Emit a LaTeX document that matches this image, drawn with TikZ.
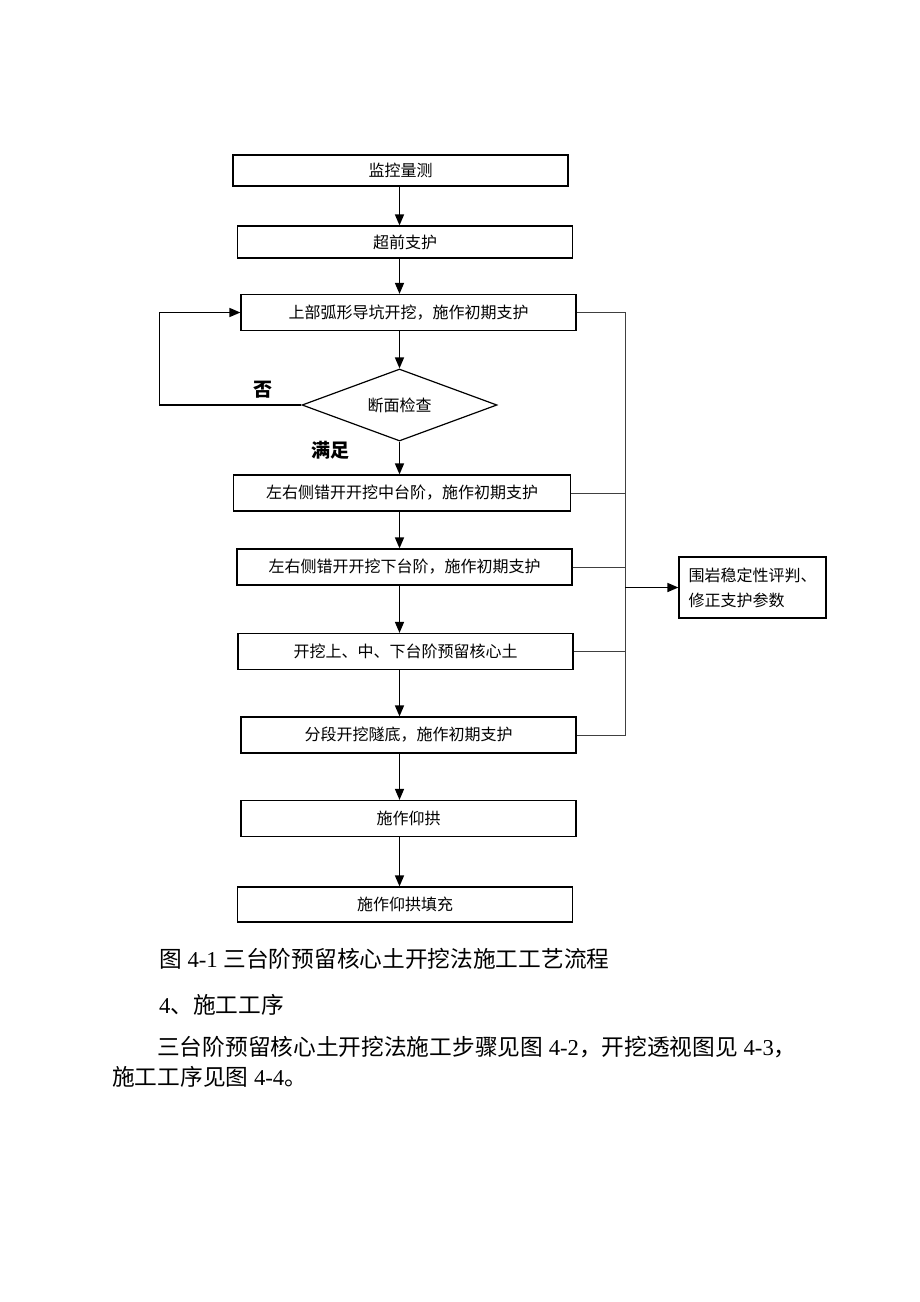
\documentclass[tikz,border=0pt]{standalone}
\usepackage{fontspec}
\setmainfont{Liberation Serif}
\newfontfamily\cjk{Noto Sans CJK SC}
\usetikzlibrary{shapes.geometric,arrows.meta}
\tikzset{
  stepbox/.style={draw,line width=1.2pt,minimum width=335pt,minimum height=36pt,inner sep=0pt,font=\cjk\fontsize{16}{18}\selectfont},
  checkbox/.style={diamond,draw,line width=1.2pt,minimum width=195pt,minimum height=72pt,aspect=2.7,inner sep=0pt,font=\cjk\fontsize{16}{18}\selectfont},
  flow/.style={line width=1.5pt,-{Triangle[length=11pt,width=9pt]}},
  feed/.style={line width=1pt,draw=black!75},
  decision/.style={inner sep=0pt,font=\cjk\bfseries\fontsize{19}{21}\selectfont},
  caption/.style={anchor=west,inner sep=0pt,font=\fontsize{22.7}{26}\selectfont}
}

\begin{document}
\begin{tikzpicture}[x=1pt,y=-1pt]
            \useasboundingbox (0,0) rectangle (920,1302);

            \node[stepbox,minimum height=31pt] (b1) at (400.5,170.5) {监控量测};
            \node[stepbox,minimum height=32pt] (b2) at (405,242) {超前支护};
            \node[stepbox] (b3) at (408.5,312.5) {上部弧形导坑开挖，施作初期支护};
            \node[checkbox] (chk) at (399.5,405) {断面检查};
            \node[stepbox,minimum width=337pt] (b4) at (402,493) {左右侧错开开挖中台阶，施作初期支护};
            \node[stepbox] (b5) at (404.5,567) {左右侧错开开挖下台阶，施作初期支护};
            \node[stepbox] (b6) at (405.5,651.5) {开挖上、中、下台阶预留核心土};
            \node[stepbox] (b7) at (408.5,735) {分段开挖隧底，施作初期支护};
            \node[stepbox] (b8) at (408.5,818.5) {施作仰拱};
            \node[stepbox,minimum height=35pt] (b9) at (405,904.5) {施作仰拱填充};
            \node[stepbox,minimum width=147pt,minimum height=61pt,align=left,font=\cjk\fontsize{16}{25}\selectfont] (rb) at (752.5,587.5) {围岩稳定性评判、\\修正支护参数};

            \node[decision] (no) at (263,390) {否};
            \node[decision] (yes) at (330,450) {满足};

            \draw[flow] (b1.south -| chk) -- (b2.north -| chk);
            \draw[flow] (b2.south -| chk) -- (b3.north -| chk);
            \draw[flow] (b3.south -| chk) -- (chk.north);
            \draw[flow] (chk.south) -- (b4.north -| chk);
            \draw[flow] (b4.south -| chk) -- (b5.north -| chk);
            \draw[flow] (b5.south -| chk) -- (b6.north -| chk);
            \draw[flow] (b6.south -| chk) -- (b7.north -| chk);
            \draw[flow] (b7.south -| chk) -- (b8.north -| chk);
            \draw[flow] (b8.south -| chk) -- (b9.north -| chk);
            \draw[flow] (chk.west) -- ++(-142,0) |- (b3.west);

            \coordinate (bus) at (625,0);
            \draw[feed] (b3.east) -- (b3.east -| bus) -- (b7.east -| bus) -- (b7.east);
            \foreach \b in {b4,b5,b6}
              \draw[feed] (\b.east) -- (\b.east -| bus);
            \draw[flow] (rb.west -| bus) -- (rb.west);

            \node[caption] (cap) at (159,959) {{\cjk 图} 4-1 {\cjk 三台阶预留核心土开挖法施工工艺流程}};
            \node[caption] (sec) at (159,1005) {4{\cjk 、施工工序}};
            \node[caption] (par1) at (157,1047) {{\cjk 三台阶预留核心土开挖法施工步骤见图} 4-2{\cjk ，开挖透视图见} 4-3{\cjk ，}};
            \node[caption] (par2) at (112,1077) {{\cjk 施工工序见图} 4-4{\cjk 。}};
\end{tikzpicture}
\end{document}
